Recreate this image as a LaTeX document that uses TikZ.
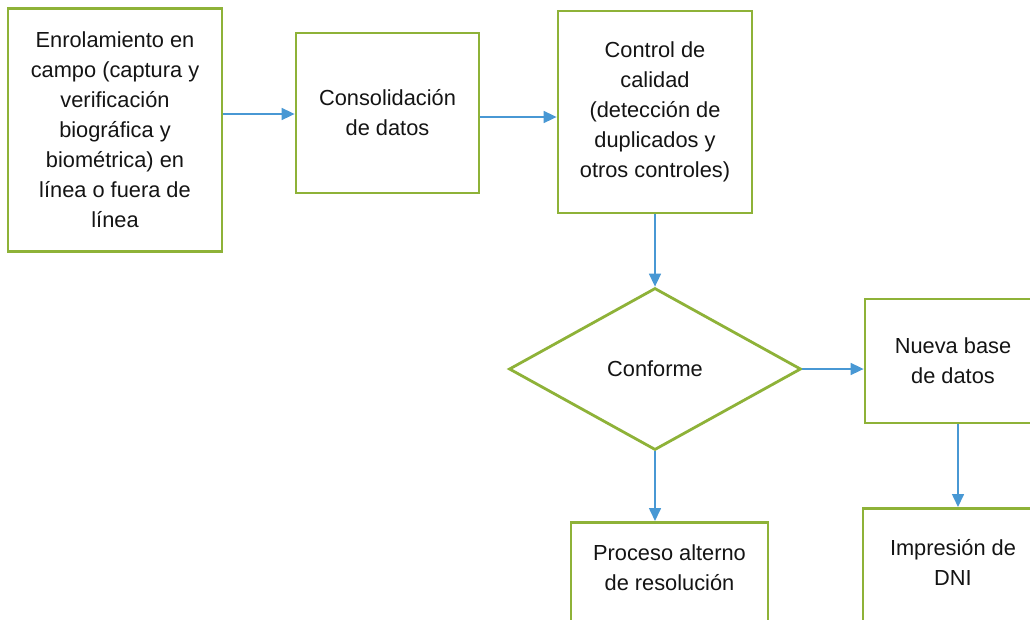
\documentclass[tikz,border=0pt]{standalone}
\usepackage{fontspec}
\setmainfont{Liberation Sans}
\usetikzlibrary{shapes.geometric,arrows.meta}
\definecolor{boxgreen}{RGB}{142,178,56}
\definecolor{arrowblue}{RGB}{72,152,212}
\tikzset{
  box/.style={draw=boxgreen, line width=2.8pt, rectangle, inner sep=0pt},
  dec/.style={draw=boxgreen, line width=2.8pt, diamond, inner sep=0pt, minimum width=292pt, minimum height=162pt},
  txt/.style={font=\fontsize{21.8}{30}\selectfont, align=center, text=black!92},
  conn/.style={draw=arrowblue, line width=1.6pt, -{Triangle[length=13pt,width=12pt]}}
}
\begin{document}
\begin{tikzpicture}[x=1pt,y=-1pt]
\clip (0,0) rectangle (1030,619);
\fill[white] (0,0) rectangle (1030,619);
\node[box, minimum width=214pt, minimum height=243pt, txt] (enrol) at (115,130)
  {Enrolamiento en\\campo (captura y\\verificación\\biográfica y\\biométrica) en\\línea o fuera de\\línea};
\node[box, minimum width=183pt, minimum height=160pt, txt] (cons) at (387.5,113)
  {Consolidación\\de datos};
\node[box, minimum width=194pt, minimum height=202pt, txt] (ctrl) at (655,112)
  {Control de\\calidad\\(detección de\\duplicados y\\otros controles)};
\node[dec, txt] (conf) at (655,369) {Conforme};
\node[box, minimum width=176pt, minimum height=124pt, txt] (nueva) at (953,361)
  {Nueva base\\de datos};
\node[box, minimum width=197pt, minimum height=140pt, anchor=north] (proc) at (669.5,521) {};
\node[txt] (proctext) at (669.5,568) {Proceso alterno\\de resolución};
\node[box, minimum width=180pt, minimum height=140pt, anchor=north] (dni) at (953,507) {};
\node[txt] (dnitext) at (953,562) {Impresión de\\DNI};
\draw[conn] (enrol.east |- 0,114) -- (cons.west |- 0,114);
\draw[conn] (cons.east |- 0,117) -- (ctrl.west |- 0,117);
\draw[conn] (ctrl.south) -- (conf.north);
\draw[conn] (conf.east) -- (nueva.west |- conf.east);
\draw[conn] (conf.south) -- (proc.north -| conf.south);
\draw[conn] (nueva.south -| 958,0) -- (dni.north -| 958,0);
\end{tikzpicture}
\end{document}
